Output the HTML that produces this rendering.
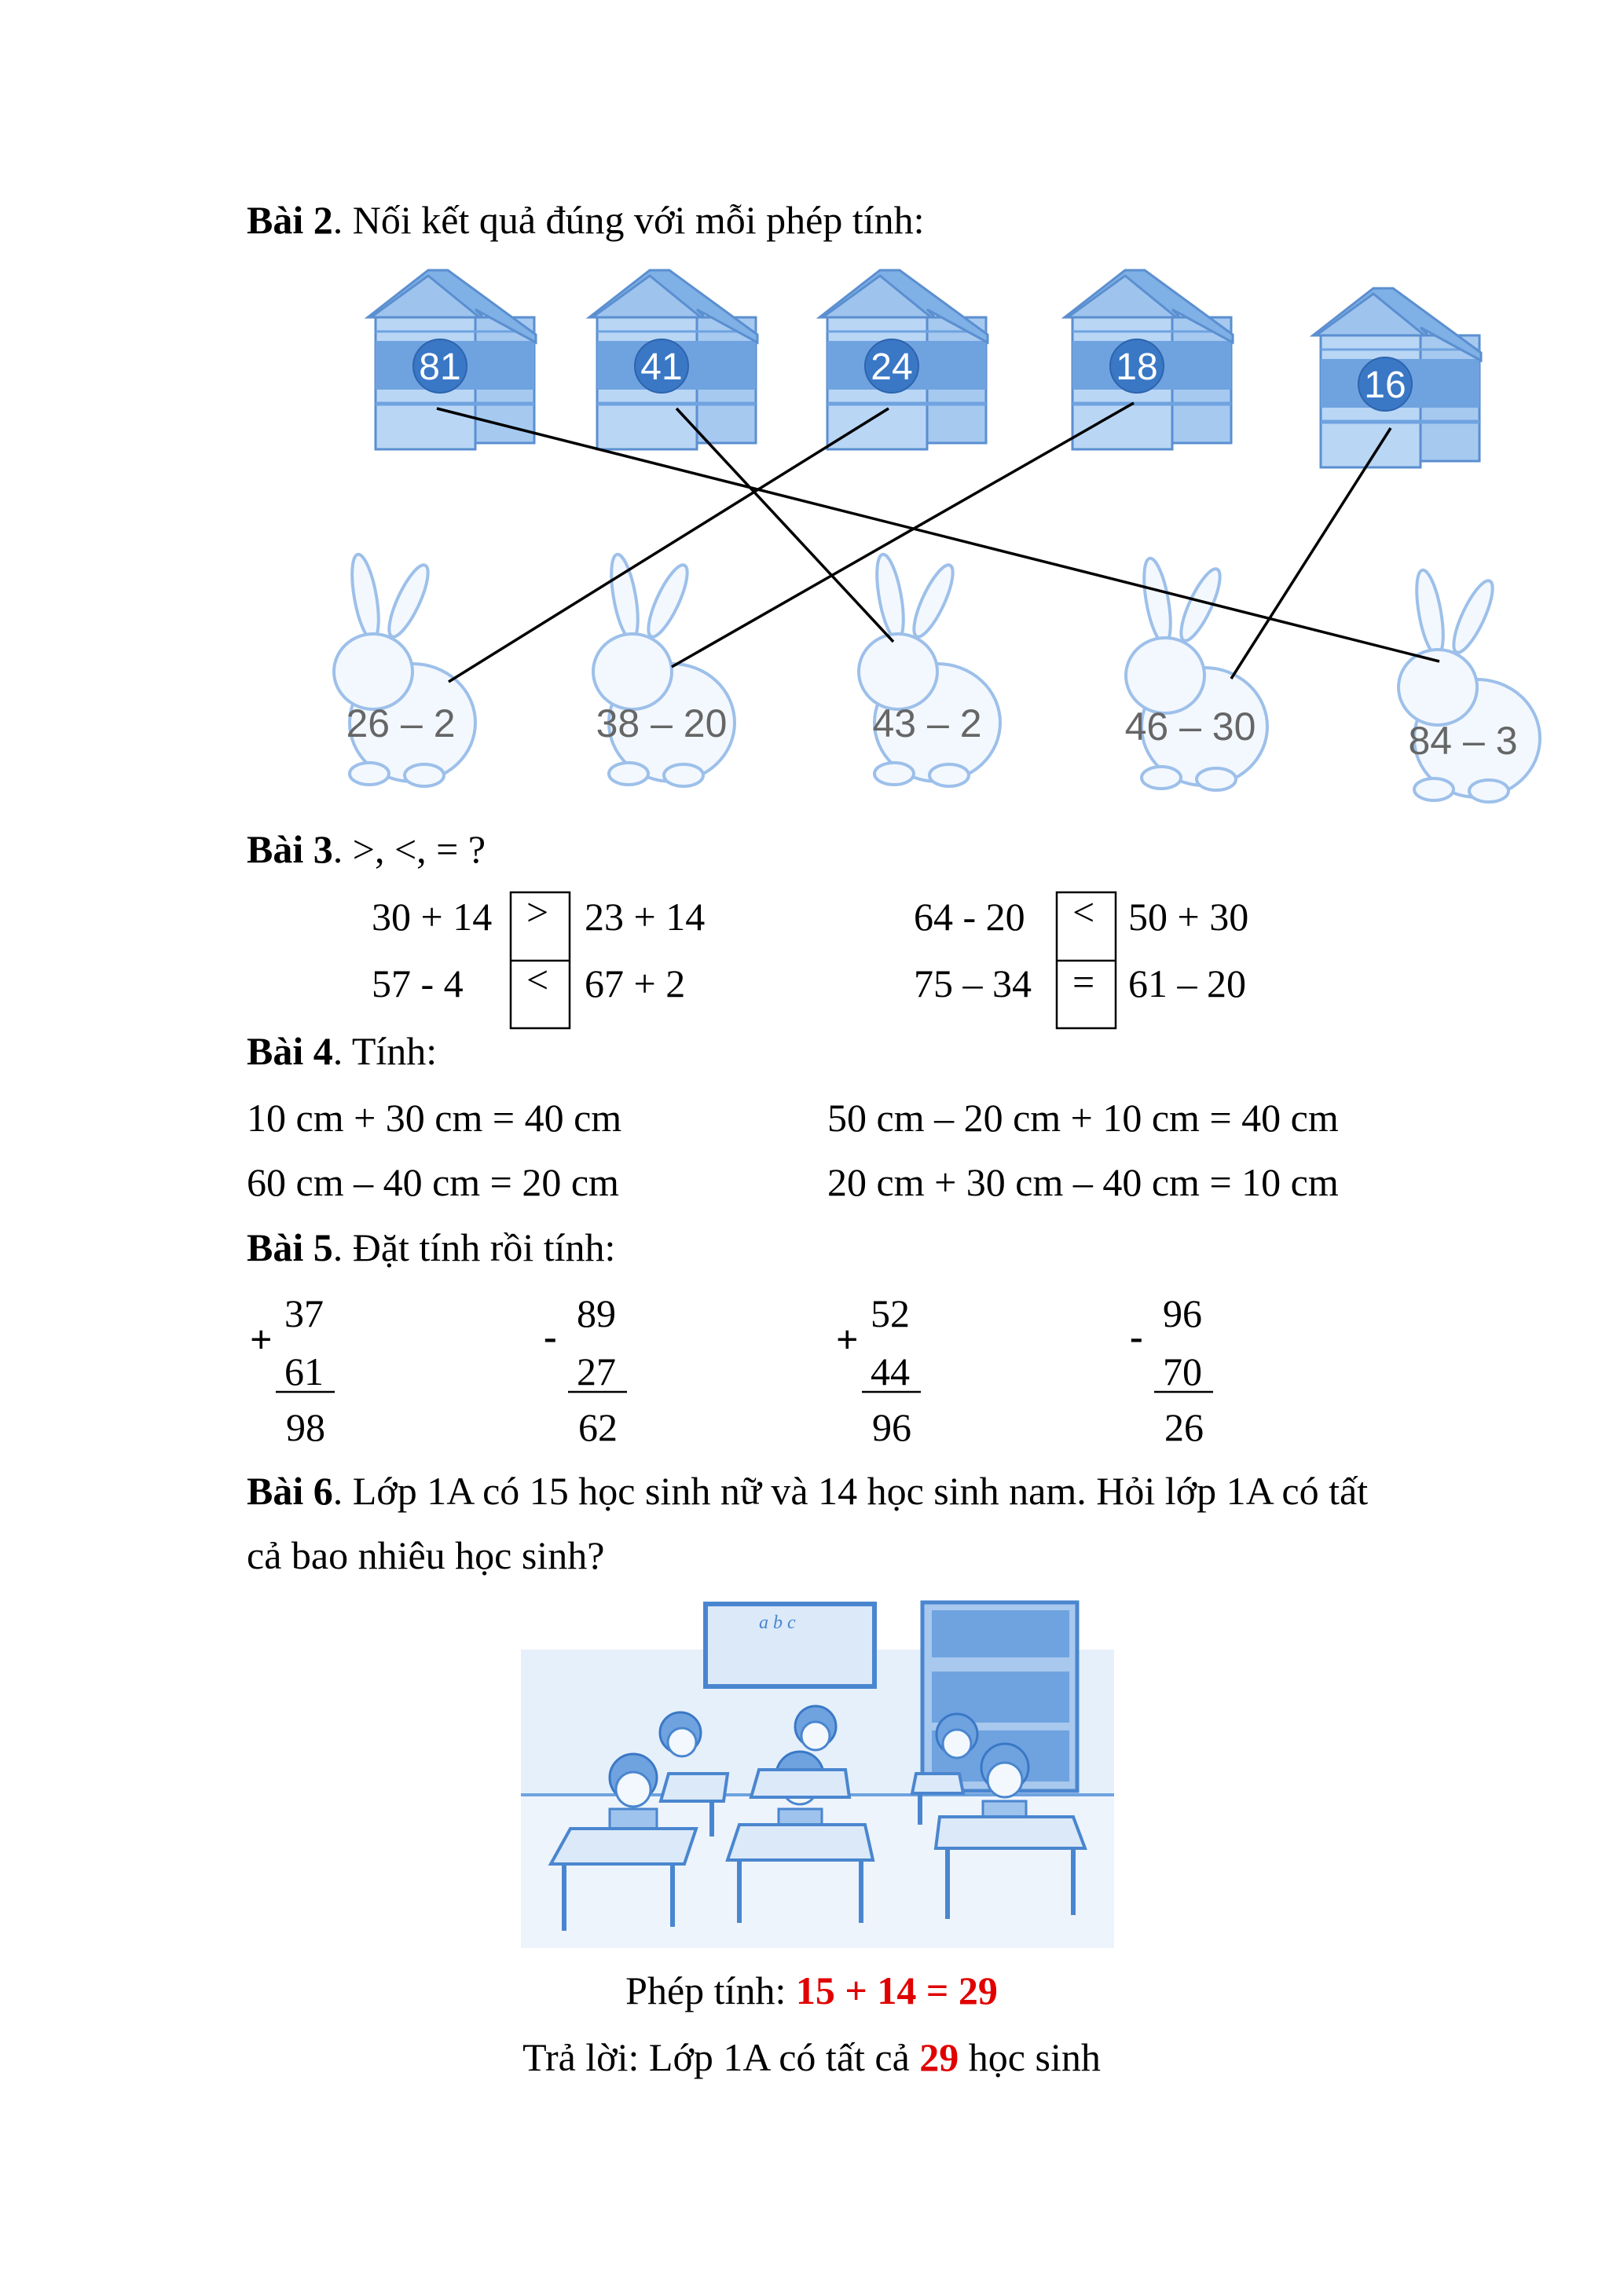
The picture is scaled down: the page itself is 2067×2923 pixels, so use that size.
<!DOCTYPE html>
<html><head><meta charset="utf-8"><style>
html,body{margin:0;padding:0;background:#fff;}
body{width:2067px;height:2923px;position:relative;overflow:hidden;font-family:"Liberation Serif",serif;font-size:50px;color:#000;}
.t{position:absolute;line-height:1;white-space:nowrap;}
b{font-weight:bold;}
.r{color:#e00000;font-weight:bold;}
svg{position:absolute;left:0;top:0;}
</style></head><body>
<svg width="2067" height="2923" viewBox="0 0 2067 2923">
<defs>
<g id="house">
  <!-- side panel -->
  <rect x="45" y="-62" width="75" height="160" fill="#a6c9f0" stroke="#5b8fd0" stroke-width="3"/>
  <!-- front body -->
  <rect x="-82" y="-62" width="127" height="168" fill="#b9d6f5" stroke="#5b8fd0" stroke-width="3"/>
  <rect x="-82" y="-32" width="202" height="62" fill="#6fa3e0"/>
  <line x1="-82" y1="48" x2="120" y2="48" stroke="#6fa3e0" stroke-width="5"/>
  <line x1="-82" y1="-44" x2="120" y2="-44" stroke="#6fa3e0" stroke-width="3"/>
  <!-- roof -->
  <polygon points="-92,-62 -15,-122 10,-122 122,-40 122,-30 45,-72 55,-62" fill="#7fb0e6" stroke="#5b8fd0" stroke-width="3"/>
  <polygon points="-88,-62 -15,-115 50,-62" fill="#9ec4ee" stroke="#5b8fd0" stroke-width="3"/>
  <circle cx="0" cy="0" r="34" fill="#3a78c6" stroke="#2d64ad" stroke-width="2"/>
</g>
<g id="rabbit" fill="#f3f8fe" stroke="#9dc0ea" stroke-width="4">
  <ellipse cx="-35" cy="-115" rx="14" ry="55" transform="rotate(-10 -35 -115)"/>
  <ellipse cx="20" cy="-110" rx="14" ry="50" transform="rotate(25 20 -110)"/>
  <ellipse cx="25" cy="45" rx="80" ry="75"/>
  <ellipse cx="-25" cy="-20" rx="50" ry="48"/>
  <ellipse cx="-30" cy="110" rx="25" ry="14"/>
  <ellipse cx="40" cy="112" rx="25" ry="14"/>
</g>
</defs>
<use href="#house" x="560" y="466"/>
<use href="#house" x="842" y="466"/>
<use href="#house" x="1135" y="466"/>
<use href="#house" x="1447" y="466"/>
<use href="#house" x="1763" y="489"/>
<g font-family="Liberation Sans, sans-serif" font-size="48" fill="#fff" text-anchor="middle">
<text x="560" y="483">81</text><text x="842" y="483">41</text><text x="1135" y="483">24</text><text x="1447" y="483">18</text><text x="1763" y="506">16</text>
</g>
<use href="#rabbit" x="500" y="875"/>
<use href="#rabbit" x="830" y="875"/>
<use href="#rabbit" x="1168" y="875"/>
<use href="#rabbit" x="1508" y="880"/>
<use href="#rabbit" x="1855" y="895"/>
<g font-family="Liberation Sans, sans-serif" font-size="50" fill="#666" text-anchor="middle">
<text x="510" y="938">26 – 2</text><text x="842" y="938">38 – 20</text><text x="1180" y="938">43 – 2</text><text x="1515" y="942">46 – 30</text><text x="1862" y="960">84 – 3</text>
</g>
<g stroke="#000" stroke-width="3.5">
<line x1="556" y1="520" x2="1832" y2="842"/>
<line x1="861" y1="520" x2="1137" y2="817"/>
<line x1="1131" y1="520" x2="571" y2="868"/>
<line x1="1443" y1="513" x2="855" y2="849"/>
<line x1="1770" y1="545" x2="1567" y2="864"/>
</g>
<g fill="none" stroke="#000" stroke-width="2.5">
<rect x="650" y="1136" width="75" height="173"/><line x1="650" y1="1223" x2="725" y2="1223"/>
<rect x="1345" y="1136" width="75" height="173"/><line x1="1345" y1="1223" x2="1420" y2="1223"/>
<line x1="351" y1="1772" x2="426" y2="1772"/>
<line x1="723" y1="1772" x2="798" y2="1772"/>
<line x1="1097" y1="1772" x2="1172" y2="1772"/>
<line x1="1469" y1="1772" x2="1544" y2="1772"/>
</g>
<!-- classroom -->
<g transform="translate(-4,-12)">
<rect x="667" y="2052" width="755" height="440" fill="#e6f0fb"/>
<rect x="667" y="2052" width="755" height="60" fill="#fff"/>
<rect x="667" y="2297" width="755" height="195" fill="#eef4fc"/>
<line x1="667" y1="2297" x2="1422" y2="2297" stroke="#6fa3e0" stroke-width="4"/>
<rect x="902" y="2054" width="215" height="105" fill="#dbe9f9" stroke="#4a86cf" stroke-width="6"/>
<text x="970" y="2085" font-size="24" fill="#4a86cf" font-style="italic">a b c</text>
<rect x="1178" y="2052" width="197" height="240" fill="#a8c8ee" stroke="#4a86cf" stroke-width="5"/>
<rect x="1190" y="2062" width="175" height="60" fill="#6fa3e0"/>
<rect x="1190" y="2140" width="175" height="65" fill="#6fa3e0"/>
<rect x="1190" y="2215" width="175" height="65" fill="#6fa3e0"/>
<g fill="#6fa3e0" stroke="#3a78c6" stroke-width="3">
<circle cx="870" cy="2218" r="26"/><circle cx="1042" cy="2210" r="26"/><circle cx="1222" cy="2220" r="26"/>
<circle cx="810" cy="2275" r="30"/><circle cx="1022" cy="2272" r="30"/><circle cx="1283" cy="2262" r="30"/>
</g>
<g fill="#f3f8fe" stroke="#4a86cf" stroke-width="3">
<circle cx="872" cy="2230" r="18"/><circle cx="1042" cy="2222" r="18"/><circle cx="1222" cy="2232" r="18"/>
<circle cx="810" cy="2290" r="22"/><circle cx="1022" cy="2287" r="22"/><circle cx="1283" cy="2278" r="22"/>
</g>
<g fill="#9ec4ee" stroke="#4a86cf" stroke-width="3">
<rect x="780" y="2315" width="60" height="45"/><rect x="995" y="2315" width="55" height="50"/><rect x="1255" y="2305" width="55" height="50"/>
</g>
<g fill="#dbe9f9" stroke="#4a86cf" stroke-width="4">
<polygon points="705,2385 875,2385 890,2340 730,2340"/>
<polygon points="930,2380 1115,2380 1105,2335 945,2335"/>
<polygon points="1195,2365 1385,2365 1370,2325 1200,2325"/>
<polygon points="845,2305 925,2305 930,2270 855,2270"/>
<polygon points="960,2300 1085,2300 1080,2265 970,2265"/>
<polygon points="1165,2295 1230,2295 1225,2270 1170,2270"/>
</g>
<g stroke="#4a86cf" stroke-width="6">
<line x1="722" y1="2385" x2="722" y2="2470"/><line x1="860" y1="2385" x2="860" y2="2465"/>
<line x1="945" y1="2380" x2="945" y2="2460"/><line x1="1100" y1="2380" x2="1100" y2="2460"/>
<line x1="1210" y1="2365" x2="1210" y2="2455"/><line x1="1370" y1="2365" x2="1370" y2="2450"/>
<line x1="910" y1="2305" x2="910" y2="2350"/><line x1="1175" y1="2295" x2="1175" y2="2335"/>
</g>
</g>
</svg>

<div class="t" style="left:314px;top:255px"><b>Bài 2</b>. Nối kết quả đúng với mỗi phép tính:</div>
<div class="t" style="left:314px;top:1056px"><b>Bài 3</b>. &gt;, &lt;, = ?</div>
<div class="t" style="left:473px;top:1142px">30 + 14</div>
<div class="t" style="left:670px;top:1136px">&gt;</div>
<div class="t" style="left:744px;top:1142px">23 + 14</div>
<div class="t" style="left:473px;top:1227px">57 - 4</div>
<div class="t" style="left:670px;top:1222px">&lt;</div>
<div class="t" style="left:744px;top:1227px">67 + 2</div>
<div class="t" style="left:1163px;top:1142px">64 - 20</div>
<div class="t" style="left:1365px;top:1136px">&lt;</div>
<div class="t" style="left:1436px;top:1142px">50 + 30</div>
<div class="t" style="left:1163px;top:1227px">75 – 34</div>
<div class="t" style="left:1365px;top:1225px">=</div>
<div class="t" style="left:1436px;top:1227px">61 – 20</div>
<div class="t" style="left:314px;top:1313px"><b>Bài 4</b>. Tính:</div>
<div class="t" style="left:314px;top:1398px">10 cm + 30 cm = 40 cm</div>
<div class="t" style="left:1053px;top:1398px">50 cm – 20 cm + 10 cm = 40 cm</div>
<div class="t" style="left:314px;top:1480px">60 cm – 40 cm = 20 cm</div>
<div class="t" style="left:1053px;top:1480px">20 cm + 30 cm – 40 cm = 10 cm</div>
<div class="t" style="left:314px;top:1563px"><b>Bài 5</b>. Đặt tính rồi tính:</div>

<div class="t" style="left:362px;top:1647px">37</div><div class="t" style="left:318px;top:1680px"><b>+</b></div><div class="t" style="left:362px;top:1721px">61</div><div class="t" style="left:364px;top:1792px">98</div>
<div class="t" style="left:734px;top:1647px">89</div><div class="t" style="left:692px;top:1676px"><b>-</b></div><div class="t" style="left:734px;top:1721px">27</div><div class="t" style="left:736px;top:1792px">62</div>
<div class="t" style="left:1108px;top:1647px">52</div><div class="t" style="left:1064px;top:1680px"><b>+</b></div><div class="t" style="left:1108px;top:1721px">44</div><div class="t" style="left:1110px;top:1792px">96</div>
<div class="t" style="left:1480px;top:1647px">96</div><div class="t" style="left:1438px;top:1676px"><b>-</b></div><div class="t" style="left:1480px;top:1721px">70</div><div class="t" style="left:1482px;top:1792px">26</div>

<div class="t" style="left:314px;top:1873px"><b>Bài 6</b>. Lớp 1A có 15 học sinh nữ và 14 học sinh nam. Hỏi lớp 1A có tất</div>
<div class="t" style="left:314px;top:1955px">cả bao nhiêu học sinh?</div>
<div class="t" style="left:0;width:2066px;text-align:center;top:2509px">Phép tính: <span class="r">15 + 14 = 29</span></div>
<div class="t" style="left:0;width:2066px;text-align:center;top:2594px">Trả lời: Lớp 1A có tất cả <span class="r">29</span> học sinh</div>
</body></html>
